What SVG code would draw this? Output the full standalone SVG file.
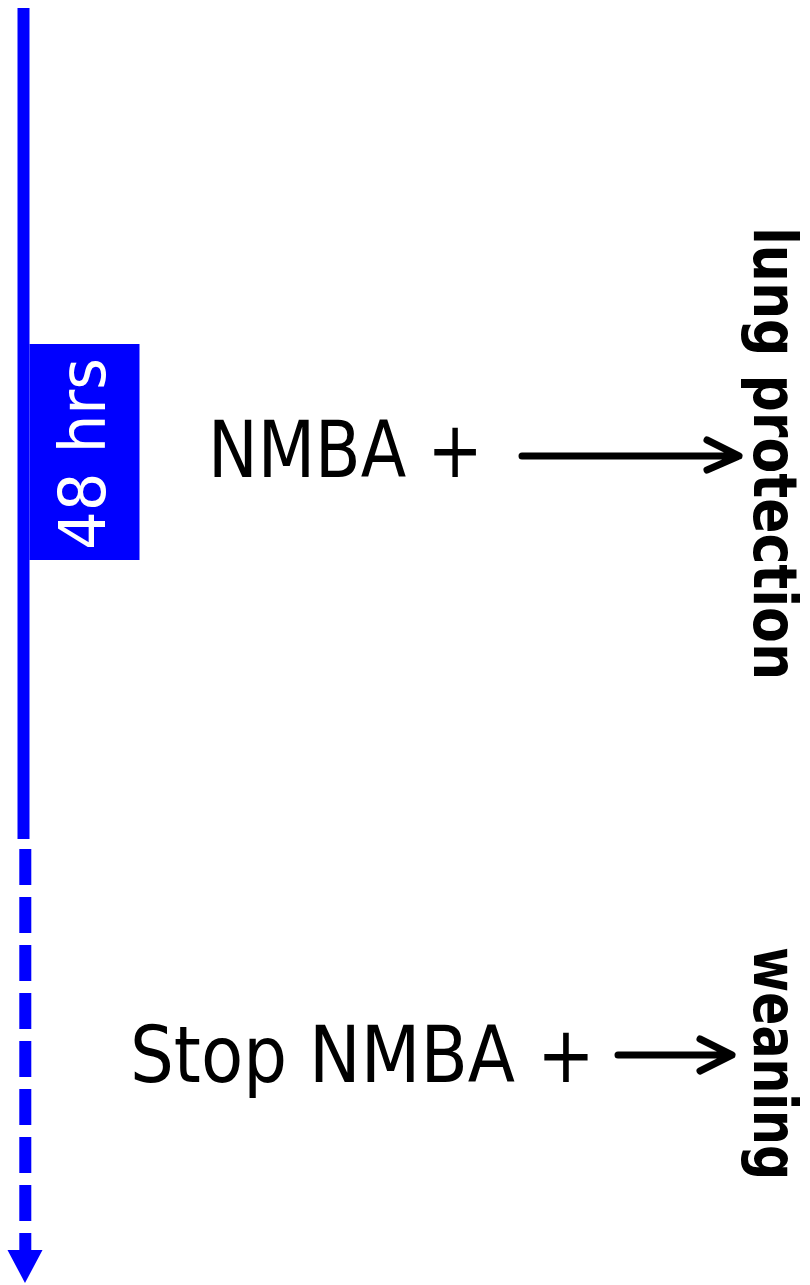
<svg xmlns="http://www.w3.org/2000/svg" width="810" height="1285" viewBox="0 0 810 1285">
<style>
.t{font-family:"DejaVu Sans","Liberation Sans",sans-serif;fill:#000}
.b{font-weight:bold}
.arr{fill:none;stroke:#000;stroke-width:7;stroke-linecap:round;stroke-linejoin:round}
.tl{stroke:#0000ff;stroke-width:12;fill:none}
</style>
<rect width="810" height="1285" fill="#fff"/>
<g id="connectors">
<line class="tl" x1="23.5" y1="8" x2="23.5" y2="839"/>
<line class="tl" x1="25.3" y1="849" x2="25.3" y2="1252" stroke-dasharray="36 12"/>
<polygon points="7.5,1250 42.5,1250 25,1283" fill="#0000ff"/>
<path class="arr" d="M522,456 H739 M707,440 L739,456 L707,470"/>
<path class="arr" d="M618,1055 H732 M700,1039 L732,1055 L700,1071"/>
</g>
<g id="box48">
<rect x="29.5" y="344" width="110" height="216" fill="#0000ff"/>
<text class="t" transform="translate(105,550) rotate(-90)" font-size="64" style="fill:#fff" textLength="192" lengthAdjust="spacingAndGlyphs">48 hrs</text>
</g>
<g id="nmba">
<text class="t" x="208" y="477" font-size="78" textLength="275" lengthAdjust="spacingAndGlyphs">NMBA +</text>
</g>
<g id="lung">
<text class="t b" transform="translate(754,227) rotate(90)" font-size="60" textLength="453" lengthAdjust="spacingAndGlyphs">lung protection</text>
</g>
<g id="stop">
<text class="t" x="130" y="1082" font-size="78" textLength="465" lengthAdjust="spacingAndGlyphs">Stop NMBA +</text>
</g>
<g id="weaning">
<text class="t b" transform="translate(754,947) rotate(90)" font-size="60" textLength="233" lengthAdjust="spacingAndGlyphs">weaning</text>
</g>
</svg>
